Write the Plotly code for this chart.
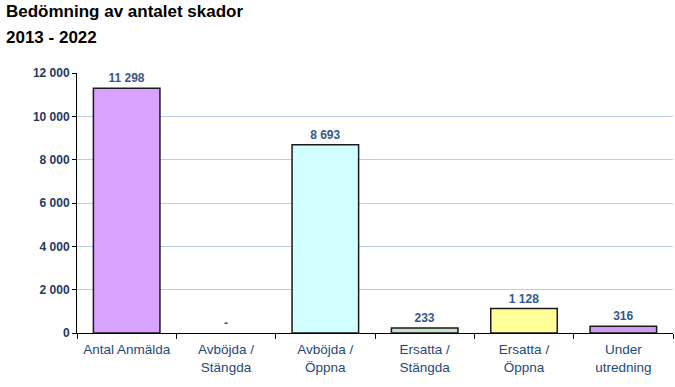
import plotly.graph_objects as go

categories = ["Antal Anmälda", "Avböjda /<br>Stängda", "Avböjda /<br>Öppna",
              "Ersatta /<br>Stängda", "Ersatta /<br>Öppna", "Under<br>utredning"]
values = [11298, 0, 8693, 233, 1128, 316]
colors = ["#D8A2FF", "#FFFFFF", "#D2FFFF", "#C9E2C9", "#FFFF99", "#CE9CF5"]
title_lines = ["Bedömning av antalet skador", "2013 - 2022"]


def fmt(v):
    return "-" if v == 0 else f"{v:,}".replace(",", " ")


labels = [fmt(v) for v in values]
FONT = "Liberation Sans, Arial"

fig = go.Figure()
fig.add_trace(go.Bar(
    x=categories, y=values,
    marker=dict(color=colors,
                line=dict(color="#1a1a1a", width=[1.5 if v else 0 for v in values])),
    width=0.67,
    text=labels, textposition="outside", cliponaxis=False,
    textfont=dict(family=FONT, size=12, color="#36588A", weight="bold"),
))

L, R, T, B = 77, 2, 73, 54
W, H = 675, 387
pw, ph = W - L - R, H - T - B

fig.update_layout(
    width=W, height=H,
    margin=dict(l=L, r=R, t=T, b=B),
    paper_bgcolor="white", plot_bgcolor="white",
    separators=", ",
    showlegend=False,
    font=dict(family=FONT),
)
for txt, yc in zip(title_lines, [12, 37]):
    fig.add_annotation(text="<b>" + txt + "</b>", xref="paper", yref="paper",
                       x=-(L - 4) / pw, y=1 + (T - yc) / ph, xanchor="left", yanchor="middle",
                       showarrow=False, font=dict(size=17, color="black", family=FONT))

fig.update_yaxes(
    range=[0, 12000], dtick=2000, tickformat=",d",
    showgrid=True, gridcolor="#B9CDE5", gridwidth=1,
    showline=True, linecolor="black", linewidth=1,
    ticks="outside", ticklen=4, tickcolor="black",
    tickfont=dict(size=12, color="#1F3864", weight="bold"),
    zeroline=False, automargin=False,
)
fig.update_xaxes(
    showline=True, linecolor="black", linewidth=1,
    ticks="outside", ticklen=5, tickcolor="black", tickson="boundaries",
    tickfont=dict(size=13.5, color="#1F497D"), ticklabelstandoff=4,
    automargin=False,
)

fig.write_html("out.html", config={"displayModeBar": False},
               post_script="document.body.style.margin='0';document.body.style.padding='0';")
